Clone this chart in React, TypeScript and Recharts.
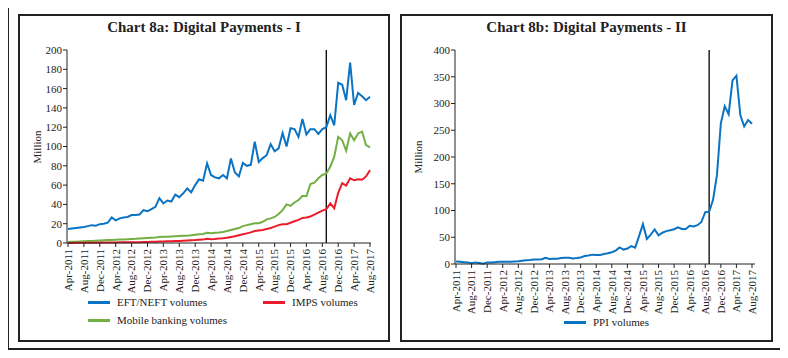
import { LineChart, Line, XAxis, YAxis, ReferenceLine } from "recharts";

const months = [
  "Apr-2011", "May-2011", "Jun-2011", "Jul-2011", "Aug-2011", "Sep-2011", "Oct-2011", "Nov-2011", "Dec-2011",
  "Jan-2012", "Feb-2012", "Mar-2012", "Apr-2012", "May-2012", "Jun-2012", "Jul-2012", "Aug-2012", "Sep-2012", "Oct-2012", "Nov-2012", "Dec-2012",
  "Jan-2013", "Feb-2013", "Mar-2013", "Apr-2013", "May-2013", "Jun-2013", "Jul-2013", "Aug-2013", "Sep-2013", "Oct-2013", "Nov-2013", "Dec-2013",
  "Jan-2014", "Feb-2014", "Mar-2014", "Apr-2014", "May-2014", "Jun-2014", "Jul-2014", "Aug-2014", "Sep-2014", "Oct-2014", "Nov-2014", "Dec-2014",
  "Jan-2015", "Feb-2015", "Mar-2015", "Apr-2015", "May-2015", "Jun-2015", "Jul-2015", "Aug-2015", "Sep-2015", "Oct-2015", "Nov-2015", "Dec-2015",
  "Jan-2016", "Feb-2016", "Mar-2016", "Apr-2016", "May-2016", "Jun-2016", "Jul-2016", "Aug-2016", "Sep-2016", "Oct-2016", "Nov-2016", "Dec-2016",
  "Jan-2017", "Feb-2017", "Mar-2017", "Apr-2017", "May-2017", "Jun-2017", "Jul-2017", "Aug-2017",
];

// million transactions per month
const eftNeft = [
  14.5, 15, 15.5, 16, 16.5, 17.5, 18.5, 18, 19.5, 20, 21, 26.5, 23.5, 25.5, 26.5, 27, 29, 29, 29.5, 34,
  33, 35, 37.5, 46.5, 41, 44, 43, 50, 47.5, 51.5, 56.5, 52.5, 60, 66, 64.5, 82.5, 70.5, 68, 67, 70.5,
  67, 87.5, 73, 69, 83, 80, 81, 105, 84, 88, 91, 102.5, 95, 98, 114, 100, 119, 118, 110, 128.5,
  112.5, 118, 118, 113, 118, 120, 132.5, 122, 166, 164, 148, 187, 143, 155.5, 152, 148, 151.5,
];
const imps = [
  0.1, 0.1, 0.15, 0.2, 0.2, 0.25, 0.3, 0.35, 0.4, 0.45, 0.5, 0.55, 0.6, 0.65, 0.7, 0.75, 0.8, 0.9, 0.9, 1,
  1.1, 1.2, 1.3, 1.5, 1.6, 1.7, 1.8, 2, 2.2, 2.4, 2.6, 2.8, 3, 3.3, 3.5, 4.5, 4, 4.2, 4.6, 5,
  5.5, 6.3, 7, 8, 9, 10, 11, 12.5, 13, 13.5, 14.5, 15.5, 17, 18.5, 19.5, 19.5, 21, 22.5, 24, 26,
  26.5, 27.5, 29.5, 31.5, 33.5, 35, 41, 36, 52, 62, 59.5, 67, 65, 66, 65.5, 69, 75.5,
];
const mobileBanking = [
  1, 1.2, 1.4, 1.6, 1.8, 2, 2.2, 2.4, 2.6, 2.8, 3, 3.1, 3.3, 3.5, 3.7, 3.9, 4.1, 4.3, 4.6, 4.9,
  5.2, 5.5, 5.8, 6.2, 6.4, 6.6, 6.8, 7, 7.2, 7.4, 7.6, 8, 8.5, 9, 9.3, 10.5, 10.2, 10.6, 10.8, 11.5,
  12.5, 13.5, 14.5, 15.5, 17.5, 18.5, 19.5, 20.5, 20.5, 22, 24.5, 25.5, 27, 30, 34, 40, 38.5, 42, 44.5, 49,
  48.5, 61, 62.5, 67, 70.5, 72, 79, 89.5, 110, 106.5, 95.5, 113.5, 106.5, 113.5, 115.5, 101.5, 99,
];
const ppi = [
  4.5, 4, 3.5, 3, 1.5, 3, 2, 0.5, 3, 3, 3.5, 4, 4, 4, 4, 4.5, 5, 6, 7, 7.5,
  8.5, 8.5, 9, 11.5, 9.5, 10, 10, 11, 11.5, 11.5, 10.5, 11, 12, 15, 16, 17.5, 17, 17, 18.5, 20,
  22, 25, 31, 27, 29, 33.5, 30.5, 52, 74.5, 47, 55, 64.5, 53.5, 58.5, 61.5, 63, 65, 68.5, 65.5, 65.5,
  71.5, 70, 72.5, 78.5, 97, 97.5, 120, 166, 263, 295, 280, 343, 352, 278.5, 257, 269, 262,
];

const leftTicks = [0, 20, 40, 60, 80, 100, 120, 140, 160, 180, 200];
const rightTicks = [0, 50, 100, 150, 200, 250, 300, 350, 400];
const breakMonth = "Sep-2016";

const chartA = months.map((m, i) => ({ month: m, eft: eftNeft[i], imps: imps[i], mobile: mobileBanking[i] }));
const chartB = months.map((m, i) => ({ month: m, ppi: ppi[i] }));

const FONT = '"Liberation Serif", "DejaVu Serif", serif';
const INK = "#222";
const BLUE = "#0a73c4";
const RED = "#ec1c2c";
const GREEN = "#72b043";

function MonthTick(props: any) {
  const { x, y, payload } = props;
  return (
    <g transform={`translate(${x},${y})`}>
      <text transform="rotate(-90)" textAnchor="end" dy="0.35em" fontSize={11} fill={INK} fontFamily={FONT}>
        {payload.value}
      </text>
    </g>
  );
}

function LegendItem({ left, top, color, label }: { left: number; top: number; color: string; label: string }) {
  return (
    <div style={{ position: "absolute", left, top, display: "flex", alignItems: "center", whiteSpace: "nowrap", fontSize: 11, color: INK }}>
      <span style={{ display: "inline-block", width: 22, height: 3, background: color, marginRight: 7 }} />
      <span>{label}</span>
    </div>
  );
}

function AxisTitle({ cx, cy }: { cx: number; cy: number }) {
  return (
    <div
      style={{
        position: "absolute",
        left: cx,
        top: cy,
        transform: "translate(-50%, -50%) rotate(-90deg)",
        fontSize: 11,
        color: INK,
        whiteSpace: "nowrap",
      }}
    >
      Million
    </div>
  );
}

const axisProps = {
  stroke: INK,
  tickLine: { stroke: INK },
  tickSize: 4,
};

export default function App() {
  return (
    <div style={{ position: "relative", width: 788, height: 358, margin: "-8px 0 0 -8px", background: "#fff", fontFamily: FONT, overflow: "hidden" }}>
      <div style={{ position: "absolute", left: 7, top: 4, width: 775, height: 346, border: `2px solid ${INK}`, boxSizing: "border-box" }} />
      <div style={{ position: "absolute", left: 18, top: 14, width: 372, height: 328, border: `2px solid ${INK}`, boxSizing: "border-box" }} />
      <div style={{ position: "absolute", left: 400, top: 14, width: 373, height: 328, border: `2px solid ${INK}`, boxSizing: "border-box" }} />

      <div style={{ position: "absolute", left: 18, width: 372, top: 20, textAlign: "center", fontWeight: "bold", fontSize: 15, lineHeight: "15px", color: INK }}>
        Chart 8a: Digital Payments - I
      </div>
      <div style={{ position: "absolute", left: 400, width: 373, top: 20, textAlign: "center", fontWeight: "bold", fontSize: 15, lineHeight: "15px", color: INK }}>
        Chart 8b: Digital Payments - II
      </div>

      <div style={{ position: "absolute", left: 0, top: 0 }}>
        <LineChart width={394} height={358} data={chartA} margin={{ top: 50, right: 23, bottom: 65, left: 27 }}>
          <XAxis
            dataKey="month"
            {...axisProps}
            interval={3}
            tickMargin={2}
            height={50}
            padding={{ left: 1, right: 1 }}
            tick={<MonthTick />}
          />
          <YAxis
            {...axisProps}
            width={40}
            domain={[0, 200]}
            ticks={leftTicks}
            tickMargin={1}
            tick={{ fontSize: 11, fill: INK, fontFamily: FONT }}
          />
          <ReferenceLine x={breakMonth} stroke="#000" strokeWidth={1.3} />
          <Line dataKey="mobile" stroke={GREEN} strokeWidth={2} dot={false} isAnimationActive={false} />
          <Line dataKey="imps" stroke={RED} strokeWidth={2} dot={false} isAnimationActive={false} />
          <Line dataKey="eft" stroke={BLUE} strokeWidth={2} dot={false} isAnimationActive={false} />
        </LineChart>
      </div>

      <div style={{ position: "absolute", left: 394, top: 0 }}>
        <LineChart width={394} height={358} data={chartB} margin={{ top: 50, right: 33, bottom: 44, left: 21 }}>
          <XAxis
            dataKey="month"
            {...axisProps}
            interval={3}
            tickMargin={2}
            height={50}
            padding={{ left: 1, right: 3 }}
            tick={<MonthTick />}
          />
          <YAxis
            {...axisProps}
            width={40}
            domain={[0, 400]}
            ticks={rightTicks}
            tickMargin={1}
            tick={{ fontSize: 11, fill: INK, fontFamily: FONT }}
          />
          <ReferenceLine x={breakMonth} stroke="#000" strokeWidth={1.3} />
          <Line dataKey="ppi" stroke={BLUE} strokeWidth={2} dot={false} isAnimationActive={false} />
        </LineChart>
      </div>

      <AxisTitle cx={37} cy={147} />
      <AxisTitle cx={418} cy={157} />

      <LegendItem left={88} top={296} color={BLUE} label="EFT/NEFT volumes" />
      <LegendItem left={263} top={296} color={RED} label="IMPS volumes" />
      <LegendItem left={88} top={314} color={GREEN} label="Mobile banking volumes" />
      <LegendItem left={564} top={316} color={BLUE} label="PPI volumes" />
    </div>
  );
}
